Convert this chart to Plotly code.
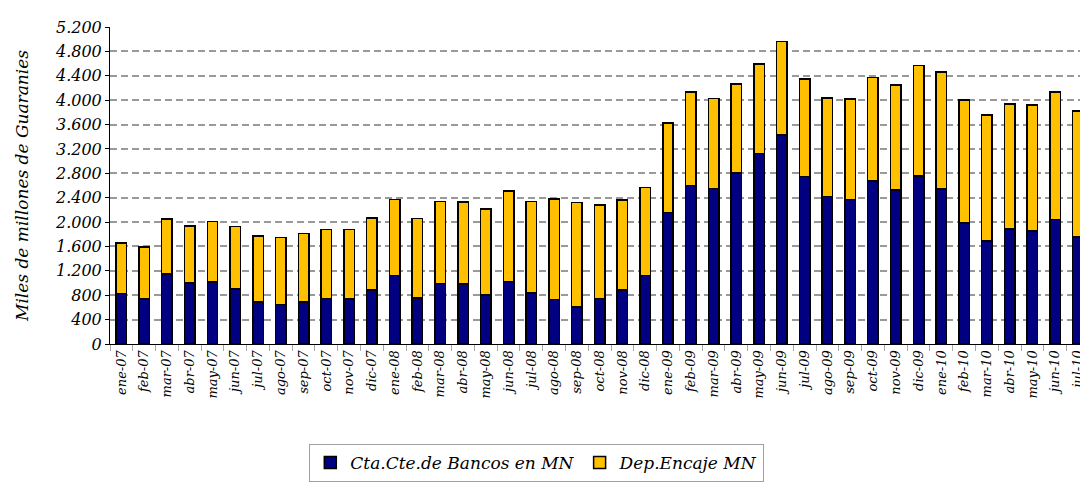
import plotly.graph_objects as go

months = ["ene-07","feb-07","mar-07","abr-07","may-07","jun-07","jul-07","ago-07","sep-07","oct-07","nov-07","dic-07",
          "ene-08","feb-08","mar-08","abr-08","may-08","jun-08","jul-08","ago-08","sep-08","oct-08","nov-08","dic-08",
          "ene-09","feb-09","mar-09","abr-09","may-09","jun-09","jul-09","ago-09","sep-09","oct-09","nov-09","dic-09",
          "ene-10","feb-10","mar-10","abr-10","may-10","jun-10","jul-10"]

cta_cte = [825, 738, 1148, 1000, 1021, 902, 693, 650, 693, 748, 738, 885,
           1125, 754, 993, 983, 803, 1026, 836, 731, 606, 743, 885, 1125,
           2157, 2600, 2551, 2808, 3125, 3426, 2748, 2420, 2371, 2677, 2530, 2754,
           2546, 1989, 1689, 1885, 1857, 2043, 1759]

total = [1660, 1595, 2054, 1934, 2010, 1928, 1770, 1748, 1813, 1879, 1879, 2066,
         2370, 2059, 2338, 2333, 2213, 2513, 2338, 2382, 2321, 2279, 2366, 2567,
         3628, 4131, 4027, 4262, 4595, 4961, 4349, 4038, 4021, 4371, 4251, 4567,
         4464, 4000, 3759, 3939, 3918, 4131, 3820]

encaje = [t - c for t, c in zip(total, cta_cte)]

yticks = list(range(0, 5201, 400))

FONT = "DejaVu Serif"

fig = go.Figure()
fig.add_trace(go.Bar(x=months, y=cta_cte, name="Cta.Cte.de Bancos en MN",
                     marker=dict(color="#000080", line=dict(color="black", width=1.5)),
                     width=0.46))
fig.add_trace(go.Bar(x=months, y=encaje, name="Dep.Encaje MN",
                     marker=dict(color="#FFC000", line=dict(color="black", width=1.5)),
                     width=0.46))

fig.update_layout(
    barmode="stack",
    width=1080, height=484,
    margin=dict(l=110, r=0, t=27, b=140, autoexpand=False),
    paper_bgcolor="white", plot_bgcolor="white",
    separators=",.",
    showlegend=True,
    legend=dict(orientation="h", x=0.44, xanchor="center", y=-0.315, yanchor="top",
                bordercolor="#a0a0a0", borderwidth=1,
                font=dict(family=FONT, size=17, color="black", style="italic"),
                traceorder="normal"),
)

fig.update_xaxes(
    type="category",
    range=[-0.5, 42.09],
    automargin=False,
    tickangle=-90,
    showline=True, linecolor="black", linewidth=1,
    ticks="outside", tickson="boundaries", ticklen=6, tickcolor="#aaaaaa",
    showgrid=False, zeroline=False,
    tickfont=dict(family=FONT, size=13, color="black", style="italic"),
)

fig.update_yaxes(
    range=[0, 5200],
    automargin=False,
    tickvals=yticks,
    tickformat=",d",
    showline=True, linecolor="black", linewidth=1,
    ticks="outside", ticklen=4, tickcolor="black",
    showgrid=True, gridcolor="#999999", gridwidth=1.5, griddash="7px,4px",
    zeroline=False,
    tickfont=dict(family=FONT, size=16, color="black", style="italic"),
    title=dict(text="Miles de millones de Guaranies", standoff=22,
               font=dict(family=FONT, size=17, color="black", style="italic")),
)

fig.write_html("out.html", config={"displayModeBar": False},
               post_script="document.body.style.margin='0px';")
